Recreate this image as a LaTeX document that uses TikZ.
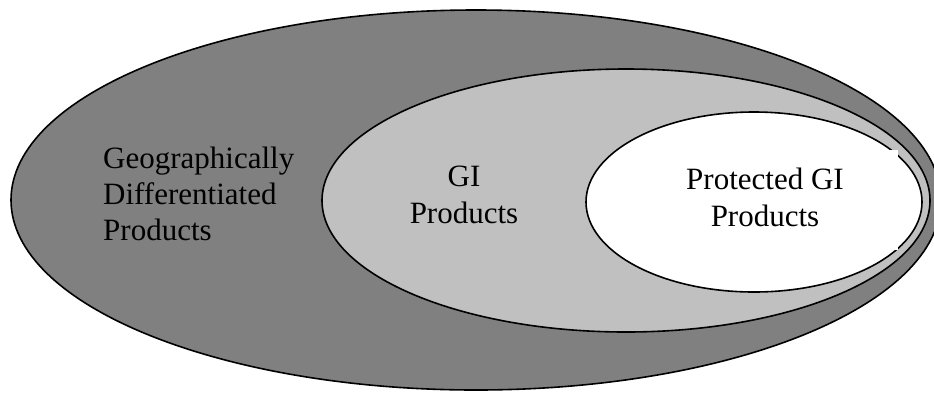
\documentclass[tikz,border=0pt]{standalone}
\usepackage{fontspec}
\setmainfont{Liberation Serif}
\usetikzlibrary{shapes.geometric}

\definecolor{darkgrey}{gray}{0.5}
\definecolor{lightgrey}{gray}{0.753}

\begin{document}
\begin{tikzpicture}[x=1pt, y=-1pt,
  setellipse/.style={ellipse, draw=black, line width=1.6pt, inner sep=0pt},
  setlabel/.style={inner sep=0pt, font=\fontsize{31}{36}\selectfont}]
  \useasboundingbox (0,0) rectangle (934,392);

  % nested sets, from the widest to the narrowest
  \node[setellipse, fill=darkgrey,  minimum width=930pt, minimum height=380pt] (outer)  at (476,200)   {};
  \node[setellipse, fill=lightgrey, minimum width=608pt, minimum height=263pt] (middle) at (626,200.5) {};
  \node[setellipse, fill=white,     minimum width=336pt, minimum height=180pt] (inner)  at (754,202)   {};

  % white backing of the innermost label
  \fill[white] (680,150) rectangle (898,250);

  % labels
  \node[setlabel, anchor=base west] (outertext) at (103,168)
    {\begin{tabular}[t]{@{}l@{}}Geographically\\Differentiated\\Products\end{tabular}};
  \node[setlabel, anchor=base] (middletext) at (464,186)
    {\renewcommand{\arraystretch}{1.04}\begin{tabular}[t]{@{}c@{}}GI\\Products\end{tabular}};
  \node[setlabel, anchor=base] (innertext) at (765,189)
    {\renewcommand{\arraystretch}{1.04}\begin{tabular}[t]{@{}c@{}}Protected GI\\Products\end{tabular}};
\end{tikzpicture}
\end{document}
